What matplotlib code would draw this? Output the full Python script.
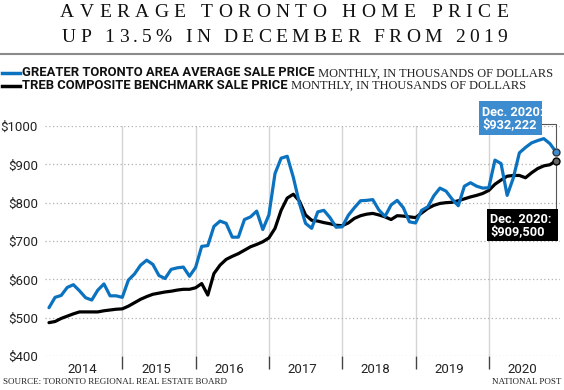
import matplotlib
matplotlib.use('Agg')
import matplotlib.pyplot as plt
from matplotlib.lines import Line2D
from matplotlib.patches import Rectangle
import numpy as np

# 数据（千加元）
years = ['2014', '2015', '2016', '2017', '2018', '2019', '2020']
gta_avg = [
    526, 553, 558, 579, 586, 570, 552, 546, 572, 588, 557, 557,
    553, 598, 614, 637, 650, 639, 610, 602, 626, 630, 632, 608,
    631, 686, 688, 738, 752, 746, 710, 710, 756, 763, 778, 730,
    768, 876, 916, 921, 866, 798, 746, 733, 776, 780, 761, 736,
    737, 767, 787, 805, 806, 808, 781, 764, 794, 806, 787, 750,
    747, 780, 789, 818, 838, 830, 809, 792, 843, 852, 843, 838,
    839, 911, 902, 819, 864, 930, 944, 956, 962, 967, 954, 932.222,
]
treb_hpi = [
    487, 490, 498, 504, 510, 515, 515, 515, 515, 518, 520, 522,
    523, 530, 539, 548, 555, 561, 564, 567, 569, 572, 574, 574,
    578, 589, 559, 615, 637, 652, 660, 667, 676, 685, 691, 698,
    708, 733, 780, 812, 822, 804, 768, 754, 752, 748, 745, 741,
    740, 747, 759, 766, 770, 772, 768, 763, 756, 766, 765, 763,
    761, 773, 785, 793, 798, 800, 801, 805, 810, 815, 819, 824,
    832, 848, 859, 869, 871, 871, 865, 878, 889, 896, 899, 909.5,
]
y_ticks = [400, 500, 600, 700, 800, 900, 1000]

BLUE = '#0b72c0'
BOX_BLUE = '#3d8ccf'
W, H = 564, 390
SANS = ['Roboto', 'DejaVu Sans']
SERIF = ['Liberation Serif', 'DejaVu Serif']

def fx(px):
    return px / W

def fy(py):
    return 1 - py / H

fig = plt.figure(figsize=(W / 100, H / 100), dpi=100)
fig.patch.set_facecolor('white')
ax = fig.add_axes([fx(45), fy(356), fx(560) - fx(45), fy(126) - fy(356)])

months = np.arange(len(gta_avg))
ax.plot(months, treb_hpi, color='black', lw=2.3, solid_capstyle='round', zorder=3)
ax.plot(months, gta_avg, color=BLUE, lw=2.3, solid_capstyle='round', zorder=4)
ax.plot(months[-1], gta_avg[-1], 'o', ms=5, mfc=BOX_BLUE, mec='#333333', mew=1, zorder=6)
ax.plot(months[-1], treb_hpi[-1], 'o', ms=5, mfc='#666666', mec='black', mew=1, zorder=6)

ax.set_xlim(-0.65, 83.65)
ax.set_ylim(400, 1000)

# 年份分隔线
for i in range(1, len(years)):
    ax.axvline(i * 12, color='#d4d4d4', lw=1, zorder=1)

ax.set_yticks(y_ticks)
ax.set_yticklabels([f'${v}' for v in y_ticks], family=SANS, fontsize=9.5, color='#222222')
ax.tick_params(axis='y', length=0, pad=5)
ax.grid(axis='y', linestyle=(0, (1, 2)), color='#b0b0b0', lw=0.9, zorder=0)

ax.set_xticks([i * 12 + 5.5 for i in range(len(years))])
ax.set_xticklabels(years, family=SANS, fontsize=9.5, color='#222222')
ax.set_xticks([i * 12 for i in range(1, len(years))], minor=True)
ax.tick_params(axis='x', which='major', length=0, pad=5)
ax.tick_params(axis='x', which='minor', length=9, width=1, color='#444444', direction='out')
for s in ax.spines.values():
    s.set_visible(False)

# 注释框
def px_box(x0, y0, x1, y1, color):
    fig.add_artist(Rectangle((fx(x0), fy(y1)), fx(x1) - fx(x0), fy(y0) - fy(y1),
                             transform=fig.transFigure, fc=color, ec='none', zorder=7))

px_box(479, 101, 542, 135, BOX_BLUE)
fig.text(fx(482), fy(118.5), 'Dec. 2020:\n$932,222', family=SANS, fontsize=9.2, fontweight='bold',
         color='white', ha='left', va='center', linespacing=1.0, zorder=8)
fig.add_artist(Line2D([fx(542), fx(556), fx(556)], [fy(124), fy(124), fy(147)],
                      color='#555555', lw=0.8, transform=fig.transFigure, zorder=5))
px_box(487, 209, 558, 241, 'black')
fig.text(fx(490), fy(225.5), 'Dec. 2020:\n$909,500', family=SANS, fontsize=9.2, fontweight='bold',
         color='white', ha='left', va='center', linespacing=1.0, zorder=8)
ax.plot([83, 83], [treb_hpi[-1] - 5, 785], color='#555555', lw=0.8, zorder=5)

# 标题（字间距）
renderer = fig.canvas.get_renderer()

def tracked(s, x0, x1, yc, size):
    widths = []
    for ch in s:
        if ch == ' ':
            widths.append(size * 1.389 * 0.25)
            continue
        t = fig.text(0, 0, ch, family=SERIF, fontsize=size)
        widths.append(t.get_window_extent(renderer).width)
        t.remove()
    track = ((x1 - x0) - sum(widths)) / (len(s) - 1)
    x = x0
    for ch, w in zip(s, widths):
        if ch != ' ':
            fig.text(fx(x), fy(yc), ch, family=SERIF, fontsize=size, ha='left',
                     va='center', color='#111111')
        x += w + track

tracked('AVERAGE TORONTO HOME PRICE', 60, 508, 12.5, 14)
tracked('UP 13.5% IN DECEMBER FROM 2019', 62, 507, 37.5, 14)
fig.add_artist(Line2D([0, 1], [fy(54), fy(54)], color='#8a8a8a', lw=1.5, transform=fig.transFigure))

# 图例
for yy, col, bold in [(73, BLUE, 'GREATER TORONTO AREA AVERAGE SALE PRICE'),
                      (85.5, 'black', 'TREB COMPOSITE BENCHMARK SALE PRICE')]:
    fig.add_artist(Line2D([fx(2), fx(20)], [fy(yy), fy(yy)], color=col, lw=2.5,
                          transform=fig.transFigure))
    t = fig.text(fx(22), fy(yy), bold, family=SANS, fontsize=9.4, fontweight='bold',
                 ha='left', va='center', color='#111111')
    ax.annotate(' MONTHLY, IN THOUSANDS OF DOLLARS', xy=(1, 0.0), xycoords=t,
                va='bottom', ha='left', family=SERIF, fontsize=8.9, color='#222222',
                annotation_clip=False)

# 来源
fig.text(fx(3), fy(382), 'SOURCE: TORONTO REGIONAL REAL ESTATE BOARD', family=SERIF,
         fontsize=6.5, ha='left', va='center', color='#222222')
fig.text(fx(561), fy(382), 'NATIONAL POST', family=SERIF, fontsize=6.5,
         ha='right', va='center', color='#222222')

fig.savefig('out.png', dpi=100, facecolor='white')
